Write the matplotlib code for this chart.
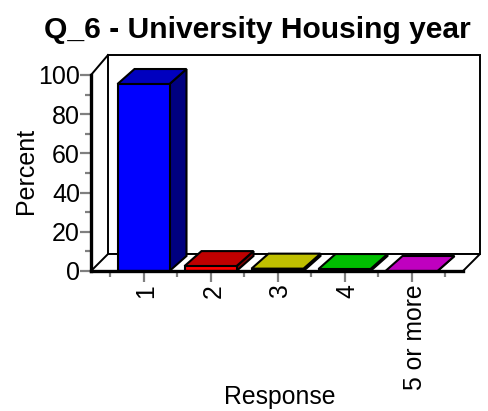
import matplotlib
matplotlib.use("Agg")
from matplotlib import pyplot as plt
from matplotlib.patches import Polygon
from matplotlib.transforms import ScaledTranslation

plt.rcParams['font.family'] = ['Liberation Sans', 'DejaVu Sans']

categories = ['1', '2', '3', '4', '5 or more']
values = [95.4, 2.5, 1.2, 1.0, 0.0]
front_colors = ['#0000ff', '#ff0000', '#ffff00', '#00ff00', '#ff00ff']
top_colors = ['#0000bf', '#bf0000', '#bfbf00', '#00bf00', '#bf00bf']
side_colors = ['#00007f', '#7f0000', '#7f7f00', '#007f00', '#7f007f']
y_ticks = [0, 20, 40, 60, 80, 100]
y_minor = [10, 30, 50, 70, 90]

W, H = 488, 411
# pixel box of the front of the plot
left, right, top, bottom = 91, 463, 75, 271
spacing = 67
first = 143.5

fig = plt.figure(figsize=(W / 100, H / 100), dpi=100)
ax = fig.add_axes([left / W, 1 - bottom / H, (right - left) / W, (bottom - top) / H])
ax.set_xlim((left - first) / spacing, (right - first) / spacing)
ax.set_ylim(0, 100)
ax.patch.set_visible(False)

px = 1 / spacing
py = 100 / (bottom - top)
wall_dx, wall_dy = 17 * px, 17 * py
wall_top = 100 + 20 * py
bar_dx, bar_dy = 17 * px, 15 * py
bar_w = 52 * px
x0, x1 = ax.get_xlim()


def poly(points, face, lw=1.5, z=2):
    ax.add_patch(Polygon(points, closed=True, facecolor=face, edgecolor='black',
                         linewidth=lw, joinstyle='miter', clip_on=False, zorder=z))


# back wall and floor
poly([(x0 + wall_dx, wall_dy), (x1 + wall_dx, wall_dy), (x1 + wall_dx, wall_top), (x0 + wall_dx, wall_top)], 'white', 1.4, 1)
poly([(x0, 0), (x1, 0), (x1 + wall_dx, wall_dy), (x0 + wall_dx, wall_dy)], 'white', 1.4, 1)
ax.plot([x0, x0 + wall_dx], [100, wall_top], color='black', lw=1.4, clip_on=False, zorder=1)

for i, v in enumerate(values):
    a, b = i - bar_w / 2, i + bar_w / 2
    poly([(b, 0), (b + bar_dx, bar_dy), (b + bar_dx, v + bar_dy), (b, v)], side_colors[i], z=3 + i)
    poly([(a, v), (b, v), (b + bar_dx, v + bar_dy), (a + bar_dx, v + bar_dy)], top_colors[i], z=3 + i)
    if v > 0:
        poly([(a, 0), (b, 0), (b, v), (a, v)], front_colors[i], z=3 + i)

for s in ['top', 'right']:
    ax.spines[s].set_visible(False)
for s in ['left', 'bottom']:
    ax.spines[s].set_linewidth(2.4)
    ax.spines[s].set_zorder(10)

ax.set_yticks(y_ticks)
ax.set_yticks(y_minor, minor=True)
ax.set_xticks(range(len(categories)))
ax.set_xticklabels(categories, rotation=90, fontsize=17.8)
ax.set_xticks([i - 0.5 for i in range(len(categories) + 1)], minor=True)
ax.tick_params(axis='both', which='major', length=8, width=1.6, color='#808080')
ax.tick_params(axis='y', which='major', labelsize=18, pad=0)
ax.tick_params(axis='both', which='minor', length=4, width=1.6, color='#808080')
ax.tick_params(axis='x', which='major', pad=1.5)

# rotated labels sit a bit right of the tick in the original
for lab in ax.get_xticklabels():
    lab.set_transform(lab.get_transform() + ScaledTranslation(3 / 100, 0, fig.dpi_scale_trans))

fig.text(257 / W, 1 - 30 / H, 'Q_6 - University Housing year', ha='center', va='center',
         fontsize=21.6, fontweight='bold')
fig.text(26 / W, 1 - 171 / H, 'Percent', rotation=90, ha='center', va='center', fontsize=18)
fig.text(280 / W, 1 - 397 / H, 'Response', ha='center', va='center', fontsize=17.8)

fig.savefig('out.png', dpi=100)
